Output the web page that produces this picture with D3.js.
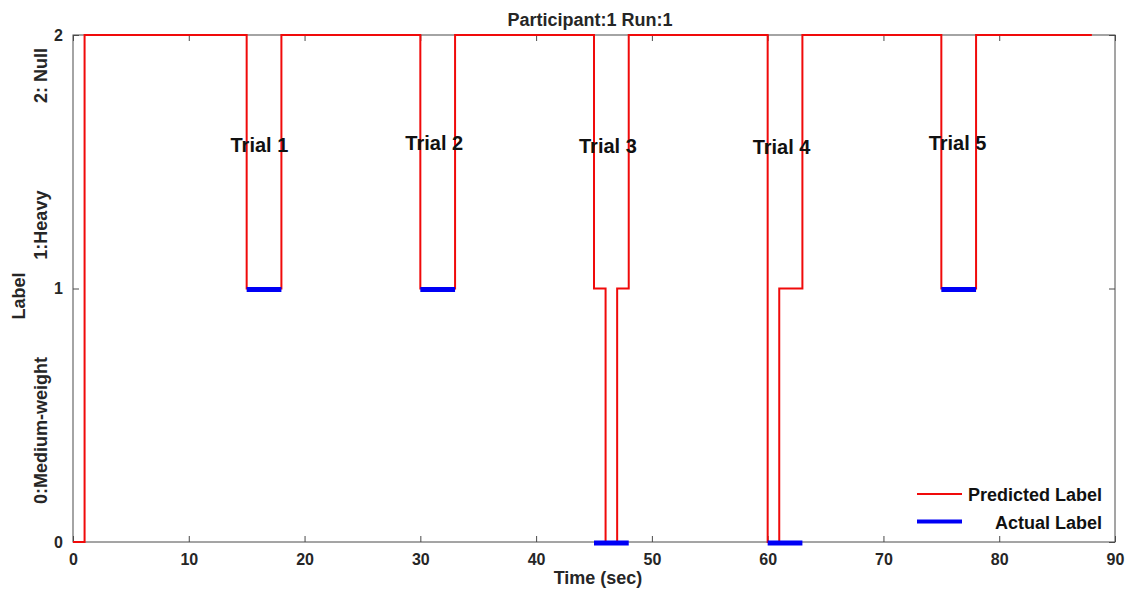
<!DOCTYPE html>
<html>
<head>
<meta charset="utf-8">
<script src="https://cdn.jsdelivr.net/npm/d3@7/dist/d3.min.js"></script>
<style>
  html, body { margin: 0; padding: 0; background: #ffffff; }
  svg { display: block; font-family: "Liberation Sans", Arial, sans-serif; }
</style>
</head>
<body>
<svg id="chart" width="1129" height="592"></svg>
<script>
// Predicted label as a step series: value holds from each time until the next
const predTimes  = [0, 1, 15, 18, 30, 33, 45, 46, 47, 48, 60, 61, 63, 75, 78, 88];
const predValues = [0, 2, 1, 2, 1, 2, 1, 0, 1, 2, 0, 1, 2, 1, 2, 2];

// Actual label during each trial window
const trialNames  = ["Trial 1", "Trial 2", "Trial 3", "Trial 4", "Trial 5"];
const trialStart  = [15, 30, 45, 60, 75];
const trialEnd    = [18, 33, 48, 63, 78];
const actualValue = [1, 1, 0, 0, 1];

// Where each trial name sits, in data units
const trialLabelX = [16.1, 31.2, 46.2, 61.2, 76.4];
const trialLabelY = [1.566, 1.574, 1.562, 1.558, 1.574];

const xTicks = [0, 10, 20, 30, 40, 50, 60, 70, 80, 90];
const yTicks = [0, 1, 2];
const classNames = ["0:Medium-weight", "1:Heavy", "2: Null"];
const classNamePos = [0.44, 1.25, 1.84];

const svg = d3.select("#chart");
const margin = { left: 73, right: 14, top: 35, bottom: 50 };
const W = 1129, H = 592;
const x = d3.scaleLinear().domain([0, 90]).range([margin.left, W - margin.right]);
const y = d3.scaleLinear().domain([0, 2]).range([H - margin.bottom, margin.top]);

const axisColor = "#4a4a4a";
const textColor = "#262626";

// Frame
svg.append("rect")
  .attr("x", x(0)).attr("y", y(2))
  .attr("width", x(90) - x(0)).attr("height", y(0) - y(2))
  .attr("fill", "none").attr("stroke", axisColor).attr("stroke-width", 1);

// Axes with inward ticks
function styleAxis(g) {
  g.select(".domain").remove();
  g.selectAll(".tick line").attr("stroke", axisColor);
  g.selectAll(".tick text")
    .attr("fill", textColor)
    .attr("font-size", 16)
    .attr("font-weight", "bold");
}
svg.append("g").attr("transform", `translate(0,${y(0)})`)
  .call(d3.axisBottom(x).tickValues(xTicks).tickFormat(d3.format("d")).tickSizeInner(-6).tickSizeOuter(0).tickPadding(12))
  .call(styleAxis);
svg.append("g").attr("transform", `translate(0,${y(2)})`)
  .call(d3.axisTop(x).tickValues(xTicks).tickFormat("").tickSizeInner(-6).tickSizeOuter(0))
  .call(styleAxis);
svg.append("g").attr("transform", `translate(${x(0)},0)`)
  .call(d3.axisLeft(y).tickValues(yTicks).tickFormat(d3.format("d")).tickSizeInner(-6).tickSizeOuter(0).tickPadding(10))
  .call(styleAxis);
svg.append("g").attr("transform", `translate(${x(90)},0)`)
  .call(d3.axisRight(y).tickValues(yTicks).tickFormat("").tickSizeInner(-6).tickSizeOuter(0))
  .call(styleAxis);

// Predicted label (red step line)
const predData = predTimes.map((t, i) => ({ t, v: predValues[i] }));
const line = d3.line().x(d => x(d.t)).y(d => y(d.v)).curve(d3.curveStepAfter);
svg.append("path")
  .datum(predData)
  .attr("d", line)
  .attr("fill", "none")
  .attr("stroke", "#f00a0a")
  .attr("stroke-width", 2);

// Actual label (thick blue segments)
const actualData = trialStart.map((s, i) => ({ s, e: trialEnd[i], v: actualValue[i] }));
svg.append("g").selectAll("line")
  .data(actualData)
  .join("line")
  .attr("x1", d => x(d.s)).attr("x2", d => x(d.e))
  .attr("y1", d => y(d.v) + 1).attr("y2", d => y(d.v) + 1)
  .attr("stroke", "#0000f5")
  .attr("stroke-width", 5);

// Trial names
svg.append("g").selectAll("text")
  .data(trialNames)
  .join("text")
  .attr("x", (d, i) => x(trialLabelX[i]))
  .attr("y", (d, i) => y(trialLabelY[i]))
  .attr("text-anchor", "middle")
  .attr("dominant-baseline", "central")
  .attr("font-size", 20)
  .attr("font-weight", "bold")
  .attr("fill", "#111")
  .text(d => d);

// Title
svg.append("text")
  .attr("x", 590).attr("y", 26)
  .attr("text-anchor", "middle")
  .attr("font-size", 18).attr("font-weight", "bold")
  .attr("fill", textColor)
  .text("Participant:1 Run:1");

// X axis title
svg.append("text")
  .attr("x", 598).attr("y", 584)
  .attr("text-anchor", "middle")
  .attr("font-size", 18).attr("font-weight", "bold")
  .attr("fill", textColor)
  .text("Time (sec)");

// Y axis titles: class names next to the axis, "Label" further out
svg.append("g").selectAll("text")
  .data(classNames)
  .join("text")
  .attr("transform", (d, i) => `translate(47,${y(classNamePos[i])}) rotate(-90)`)
  .attr("text-anchor", "middle")
  .attr("font-size", 18).attr("font-weight", "bold")
  .attr("fill", textColor)
  .text(d => d);
svg.append("text")
  .attr("transform", `translate(25,${y(0.97)}) rotate(-90)`)
  .attr("text-anchor", "middle")
  .attr("font-size", 18).attr("font-weight", "bold")
  .attr("fill", textColor)
  .text("Label");

// Legend
const legendItems = [
  { name: "Predicted Label", color: "#f00a0a", width: 2 },
  { name: "Actual Label", color: "#0000f5", width: 4 }
];
const lg = svg.append("g");
legendItems.forEach((it, i) => {
  const ly = 494 + i * 27.5;
  lg.append("line")
    .attr("x1", 917).attr("x2", 962).attr("y1", ly).attr("y2", ly)
    .attr("stroke", it.color).attr("stroke-width", it.width);
  lg.append("text")
    .attr("x", 1102).attr("y", ly + 7)
    .attr("text-anchor", "end")
    .attr("font-size", 18).attr("font-weight", "bold")
    .attr("fill", "#111")
    .text(it.name);
});
</script>
</body>
</html>
